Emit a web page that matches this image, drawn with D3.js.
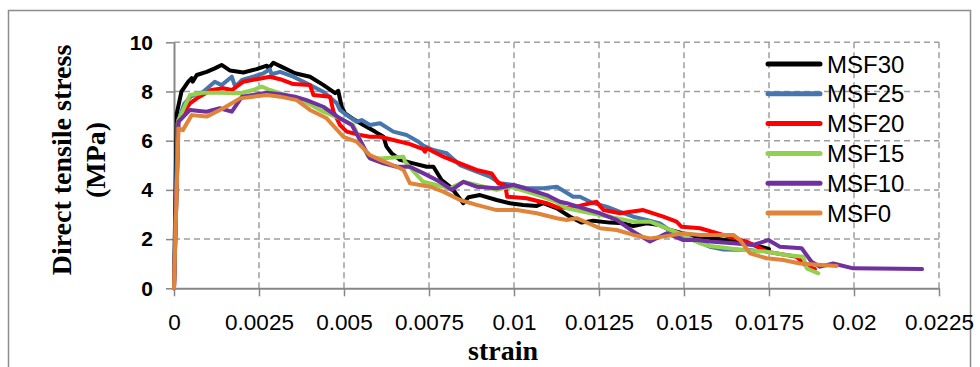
<!DOCTYPE html>
<html>
<head>
<meta charset="utf-8">
<script src="https://cdnjs.cloudflare.com/ajax/libs/d3/7.8.5/d3.min.js"></script>
<style>
  html, body { margin: 0; padding: 0; background: #fff; }
  svg { display: block; }
</style>
</head>
<body>
<svg id="chart" width="980" height="367"></svg>
<script>
// ---------------- DATA ----------------
const seriesNames = ["MSF30", "MSF25", "MSF20", "MSF15", "MSF10", "MSF0"];
const seriesColors = ["#000000", "#4676ae", "#ff0000", "#92d050", "#7030a0", "#e0843a"];

const xTickValues = [0, 0.0025, 0.005, 0.0075, 0.01, 0.0125, 0.015, 0.0175, 0.02, 0.0225];
const xTickLabels = ["0", "0.0025", "0.005", "0.0075", "0.01", "0.0125", "0.015", "0.0175", "0.02", "0.0225"];
const yTickValues = [0, 2, 4, 6, 8, 10];
const yTickLabels = ["0", "2", "4", "6", "8", "10"];

// [strain, stress (MPa)]
const msf30 = [[0,0],[0.00008,7.1],[0.00022,8.0],[0.00042,8.4],[0.00052,8.54],[0.00055,8.4],[0.00067,8.67],[0.00096,8.8],[0.0012,8.94],[0.0014,9.08],[0.00165,8.85],[0.00204,8.77],[0.00243,8.91],[0.00273,9.05],[0.00278,8.94],[0.00292,9.17],[0.0032,8.98],[0.00356,8.74],[0.004,8.6],[0.0044,8.26],[0.00474,7.93],[0.00483,8.03],[0.00493,7.38],[0.00503,7.11],[0.00532,6.84],[0.00557,6.64],[0.00591,6.37],[0.00616,6.16],[0.00625,5.76],[0.0064,5.49],[0.00665,5.22],[0.00704,5.08],[0.00743,4.94],[0.00763,4.94],[0.00787,4.4],[0.00817,4.07],[0.00851,3.46],[0.00866,3.7],[0.009,3.79],[0.00949,3.59],[0.00988,3.46],[0.01027,3.39],[0.01067,3.35],[0.01086,3.46],[0.01126,3.25],[0.01165,2.91],[0.01199,2.67],[0.01233,2.75],[0.01282,2.67],[0.01322,2.64],[0.01351,2.53],[0.0139,2.64],[0.01429,2.57],[0.01459,2.37],[0.0152,2.15],[0.016,2.0],[0.0168,1.85],[0.0175,1.6]];
const msf25 = [[0,0],[0.0001,6.7],[0.0003,7.5],[0.0005,7.8],[0.00086,7.99],[0.0012,8.4],[0.0014,8.26],[0.0017,8.6],[0.0018,8.2],[0.002,8.47],[0.00233,8.6],[0.00263,8.74],[0.00282,8.9],[0.00287,8.7],[0.00312,8.8],[0.00351,8.6],[0.0039,8.33],[0.00439,7.99],[0.00479,7.52],[0.00488,7.25],[0.00508,7.04],[0.00537,6.77],[0.00552,6.84],[0.00576,6.64],[0.00606,6.71],[0.00645,6.37],[0.00684,6.23],[0.00719,5.96],[0.00733,5.8],[0.00763,5.62],[0.00802,5.49],[0.00841,5.01],[0.0089,4.74],[0.00929,4.54],[0.00959,4.27],[0.00998,4.2],[0.01037,4.07],[0.01086,4.07],[0.01126,4.13],[0.01174,3.72],[0.01194,3.72],[0.01233,3.46],[0.01272,3.32],[0.01312,3.11],[0.01351,2.91],[0.0139,2.78],[0.01429,2.64],[0.01478,2.17],[0.01527,1.96],[0.01576,1.69],[0.01616,1.58],[0.01694,1.56],[0.0172,1.5]];
const msf20 = [[0,0],[0.00013,6.84],[0.00047,7.52],[0.00067,7.72],[0.0011,8.06],[0.00145,8.13],[0.0017,8.06],[0.00204,8.4],[0.00243,8.5],[0.00282,8.6],[0.00312,8.5],[0.00351,8.3],[0.004,8.26],[0.0041,7.86],[0.00459,7.79],[0.00469,7.18],[0.00488,6.64],[0.00508,6.37],[0.00547,6.23],[0.00576,6.16],[0.00606,6.16],[0.00645,6.03],[0.00694,5.86],[0.00733,5.66],[0.00738,5.55],[0.00743,5.69],[0.00792,5.35],[0.00841,5.08],[0.0089,4.81],[0.00934,4.67],[0.00954,4.27],[0.00974,4.2],[0.0098,3.72],[0.01037,3.66],[0.01096,3.46],[0.01126,3.3],[0.01165,3.25],[0.01204,3.39],[0.01243,3.52],[0.01263,3.18],[0.01312,3.05],[0.0138,3.18],[0.01439,2.91],[0.01478,2.71],[0.01493,2.5],[0.01547,2.44],[0.01615,2.17],[0.01684,1.9],[0.01743,1.49],[0.01831,1.28],[0.01856,0.95],[0.01885,0.78]];
const msf15 = [[0,0],[0.00013,6.84],[0.00047,7.86],[0.00086,7.95],[0.00135,7.95],[0.00194,7.93],[0.00233,8.06],[0.00258,8.2],[0.00282,8.06],[0.00341,7.8],[0.0039,7.55],[0.00439,7.18],[0.00488,6.91],[0.00527,6.64],[0.00547,6.03],[0.00571,5.35],[0.00606,5.28],[0.00675,5.35],[0.00679,5.15],[0.00714,4.61],[0.00733,4.33],[0.00773,4.2],[0.00812,4.07],[0.00851,4.33],[0.0089,4.2],[0.00949,4.0],[0.00988,4.13],[0.01037,3.93],[0.01086,3.72],[0.01126,3.5],[0.01155,3.25],[0.01204,3.11],[0.01253,2.98],[0.01302,2.85],[0.01351,2.71],[0.014,2.71],[0.01449,2.44],[0.01498,2.17],[0.01547,1.83],[0.01576,1.72],[0.01674,1.56],[0.01743,1.49],[0.018,1.35],[0.01851,1.28],[0.01861,0.81],[0.01895,0.61]];
const msf10 = [[0,0],[0.00013,6.77],[0.00047,7.25],[0.00096,7.18],[0.00135,7.32],[0.0017,7.18],[0.002,7.79],[0.00233,7.86],[0.00273,7.95],[0.00312,7.89],[0.00356,7.79],[0.0039,7.65],[0.00439,7.38],[0.00488,6.91],[0.00523,6.64],[0.00547,6.03],[0.00576,5.28],[0.00616,5.08],[0.00655,4.94],[0.00694,4.94],[0.00743,4.61],[0.00782,4.33],[0.00817,4.0],[0.00851,4.33],[0.0089,4.13],[0.00949,4.07],[0.00998,4.2],[0.01047,4.0],[0.01096,3.79],[0.01135,3.52],[0.01155,3.46],[0.01204,3.25],[0.01253,3.05],[0.01302,2.78],[0.01351,2.3],[0.014,1.9],[0.01449,2.24],[0.01498,1.96],[0.01537,1.96],[0.01576,1.9],[0.01645,1.83],[0.01704,1.76],[0.01748,1.96],[0.01782,1.69],[0.01846,1.63],[0.01875,1.08],[0.019,0.88],[0.01939,1.01],[0.01998,0.81],[0.022,0.78]];
const msf0 = [[0,0],[0.00013,6.5],[0.00026,6.43],[0.00052,7.04],[0.00096,6.98],[0.00145,7.32],[0.00194,7.72],[0.00233,7.79],[0.00273,7.86],[0.00312,7.79],[0.00361,7.65],[0.004,7.25],[0.00449,6.91],[0.00498,6.16],[0.00537,5.96],[0.00576,5.42],[0.00606,5.22],[0.00655,4.94],[0.00675,4.81],[0.00694,4.27],[0.00753,4.13],[0.00792,3.93],[0.00841,3.59],[0.0089,3.39],[0.00949,3.18],[0.01008,3.18],[0.01067,3.05],[0.01126,2.85],[0.01155,2.78],[0.01184,2.85],[0.01253,2.44],[0.01302,2.37],[0.01351,2.17],[0.014,2.03],[0.01439,2.1],[0.01498,2.24],[0.01547,2.17],[0.01645,2.17],[0.01665,1.96],[0.01694,1.42],[0.01743,1.22],[0.01792,1.15],[0.01841,1.01],[0.01949,0.91]];

const seriesData = [msf30, msf25, msf20, msf15, msf10, msf0];

// ---------------- DRAW ----------------
const svg = d3.select("#chart");
const plot = { left: 174, right: 939, top: 42.3, bottom: 288.3 };

const x = d3.scaleLinear().domain([0, 0.0225]).range([plot.left, plot.right]);
const y = d3.scaleLinear().domain([0, 10]).range([plot.bottom, plot.top]);

// outer frame
svg.append("rect")
  .attr("x", 8.5).attr("y", 10.5)
  .attr("width", 962).attr("height", 380)
  .attr("fill", "none").attr("stroke", "#8c8c8c").attr("stroke-width", 1.5);

// grid
const grid = svg.append("g");
grid.selectAll("line.gx")
  .data(xTickValues.filter(v => v > 0))
  .join("line")
  .attr("x1", d => x(d)).attr("x2", d => x(d))
  .attr("y1", y(0)).attr("y2", y(10))
  .attr("stroke", "#9e9e9e").attr("stroke-width", 1.5)
  .attr("stroke-dasharray", "6,4");
grid.selectAll("line.gy")
  .data(yTickValues.filter(v => v > 0))
  .join("line")
  .attr("x1", x(0)).attr("x2", x(0.0225))
  .attr("y1", d => y(d)).attr("y2", d => y(d))
  .attr("stroke", "#9e9e9e").attr("stroke-width", 1.5)
  .attr("stroke-dasharray", "6,4");

// axes
const xAxis = d3.axisBottom(x)
  .tickValues(xTickValues)
  .tickFormat((d, i) => xTickLabels[i])
  .tickSizeInner(8).tickSizeOuter(0).tickPadding(18);
const gx = svg.append("g").attr("transform", `translate(0,${y(0)})`).call(xAxis);
gx.select(".domain").attr("stroke", "#868686").attr("stroke-width", 2);
gx.selectAll(".tick line").attr("stroke", "#868686").attr("stroke-width", 1.5);
gx.selectAll(".tick text")
  .attr("font-family", "'Liberation Sans', Arial, sans-serif")
  .attr("font-size", 22.5).attr("fill", "#000");

const yAxis = d3.axisLeft(y)
  .tickValues(yTickValues)
  .tickFormat((d, i) => yTickLabels[i])
  .tickSizeInner(8).tickSizeOuter(0).tickPadding(13);
const gy = svg.append("g").attr("transform", `translate(${x(0)},0)`).call(yAxis);
gy.select(".domain").attr("stroke", "#868686").attr("stroke-width", 2);
gy.selectAll(".tick line").attr("stroke", "#868686").attr("stroke-width", 1.5);
gy.selectAll(".tick text")
  .attr("font-family", "'Liberation Sans', Arial, sans-serif")
  .attr("font-weight", "bold")
  .attr("font-size", 21).attr("fill", "#000");

// series
const line = d3.line().x(d => x(d[0])).y(d => y(d[1]));
svg.append("g").selectAll("path")
  .data(seriesData)
  .join("path")
  .attr("d", line)
  .attr("fill", "none")
  .attr("stroke", (d, i) => seriesColors[i])
  .attr("stroke-width", 4)
  .attr("stroke-linejoin", "round")
  .attr("stroke-linecap", "round");

// axis titles
const yTitle = svg.append("text")
  .attr("transform", "translate(79,160) rotate(-90)")
  .attr("text-anchor", "middle")
  .attr("font-family", "'Liberation Serif', 'Times New Roman', serif")
  .attr("font-weight", "bold")
  .attr("font-size", 28)
  .attr("fill", "#000");
yTitle.append("tspan").attr("x", 0).attr("y", -8).text("Direct tensile stress");
yTitle.append("tspan").attr("x", 0).attr("y", 26).text("(MPa)");

svg.append("text")
  .attr("x", 503).attr("y", 360)
  .attr("text-anchor", "middle")
  .attr("font-family", "'Liberation Serif', 'Times New Roman', serif")
  .attr("font-weight", "bold")
  .attr("font-size", 28)
  .attr("fill", "#000")
  .text("strain");

// legend
const legend = svg.append("g").attr("transform", "translate(768,64)");
const items = legend.selectAll("g")
  .data(seriesNames)
  .join("g")
  .attr("transform", (d, i) => `translate(0,${i * 29.8})`);
items.append("line")
  .attr("x1", 0).attr("x2", 52).attr("y1", 0).attr("y2", 0)
  .attr("stroke", (d, i) => seriesColors[i])
  .attr("stroke-width", 5)
  .attr("stroke-linecap", "round");
items.append("text")
  .attr("x", 59).attr("y", 8.5)
  .attr("font-family", "'Liberation Sans', Arial, sans-serif")
  .attr("font-size", 24)
  .attr("fill", "#000")
  .text(d => d);
</script>
</body>
</html>
